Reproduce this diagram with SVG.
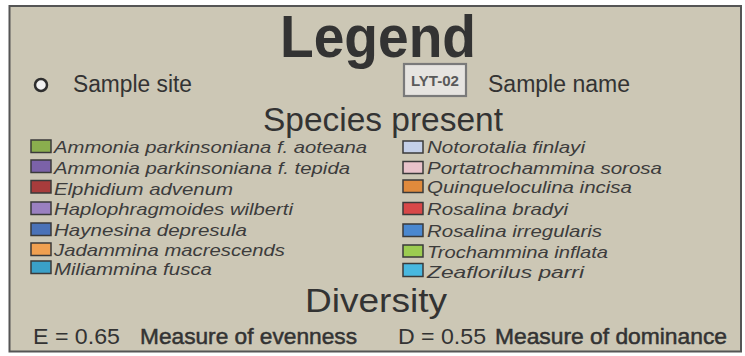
<svg xmlns="http://www.w3.org/2000/svg" width="745" height="356" viewBox="0 0 745 356">
<style>
.t{font-family:"Liberation Sans",Arial,sans-serif;fill:#333}
.sp{font-family:"Liberation Sans",Arial,sans-serif;font-style:italic;font-size:17px;fill:#3c3c3c}
.sw{stroke:#3a3a3a;stroke-width:1.5}
.med{stroke:#333;stroke-width:0.5}
</style>
<rect x="0" y="0" width="745" height="356" fill="#ffffff"/>
<rect id="frame" x="9.5" y="6" width="731.5" height="345.5" fill="#ccc7b5" stroke="#555" stroke-width="2"/>
<g id="title"><text class="t" x="378" y="57" font-size="60" font-weight="bold" text-anchor="middle" fill="#2a2a2a" textLength="196" lengthAdjust="spacingAndGlyphs">Legend</text></g>
<g id="sample-site">
<circle cx="41" cy="85" r="6" fill="#f2f2f2" stroke="#2e2e2e" stroke-width="2.5"/>
<text class="t" x="73" y="92" font-size="23" textLength="119" lengthAdjust="spacingAndGlyphs">Sample site</text>
</g>
<g id="sample-name">
<rect x="404" y="64" width="62" height="32" fill="#e6e4e0" stroke="#7a7a7a" stroke-width="2.2"/>
<text x="435" y="86" font-family="'Liberation Sans',Arial,sans-serif" font-size="14" font-weight="bold" fill="#5a5a5a" text-anchor="middle" textLength="48" lengthAdjust="spacingAndGlyphs">LYT-02</text>
<text class="t" x="488" y="92" font-size="23" textLength="142" lengthAdjust="spacingAndGlyphs">Sample name</text>
</g>
<g id="species-heading"><text class="t" x="383" y="131" font-size="34" text-anchor="middle" textLength="240" lengthAdjust="spacingAndGlyphs">Species present</text></g>
<g id="species-left">
<rect class="sw" x="31" y="140" width="20" height="12.5" fill="#8aae4e"/>
<text class="sp" x="54" y="152.5" textLength="313" lengthAdjust="spacingAndGlyphs">Ammonia parkinsoniana f. aoteana</text>
<rect class="sw" x="31" y="160" width="20" height="12.5" fill="#7b62a8"/>
<text class="sp" x="54" y="173.5" textLength="296" lengthAdjust="spacingAndGlyphs">Ammonia parkinsoniana f. tepida</text>
<rect class="sw" x="31" y="180.5" width="20" height="12.5" fill="#a83c3c"/>
<text class="sp" x="54" y="194.5" textLength="179" lengthAdjust="spacingAndGlyphs">Elphidium advenum</text>
<rect class="sw" x="31" y="202" width="20" height="12.5" fill="#9a80c0"/>
<text class="sp" x="54" y="215" textLength="239" lengthAdjust="spacingAndGlyphs">Haplophragmoides wilberti</text>
<rect class="sw" x="31" y="223" width="20" height="12.5" fill="#4a72b8"/>
<text class="sp" x="54" y="235.5" textLength="193" lengthAdjust="spacingAndGlyphs">Haynesina depresula</text>
<rect class="sw" x="31" y="243" width="20" height="12.5" fill="#f0a050"/>
<text class="sp" x="54" y="255.5" textLength="231" lengthAdjust="spacingAndGlyphs">Jadammina macrescends</text>
<rect class="sw" x="31" y="261" width="20" height="12.5" fill="#3aa0c8"/>
<text class="sp" x="54" y="275" textLength="158" lengthAdjust="spacingAndGlyphs">Miliammina fusca</text>
</g>
<g id="species-right">
<rect class="sw" x="403" y="141" width="20" height="12" fill="#c4cfe8"/>
<text class="sp" x="427" y="153" textLength="158" lengthAdjust="spacingAndGlyphs">Notorotalia finlayi</text>
<rect class="sw" x="403" y="161.5" width="20" height="12" fill="#e8c2ca"/>
<text class="sp" x="427" y="174" textLength="235" lengthAdjust="spacingAndGlyphs">Portatrochammina sorosa</text>
<rect class="sw" x="403" y="180" width="20" height="12.5" fill="#e08a3c"/>
<text class="sp" x="427" y="193" textLength="205" lengthAdjust="spacingAndGlyphs">Quinqueloculina incisa</text>
<rect class="sw" x="403" y="202.5" width="20" height="12" fill="#d84848"/>
<text class="sp" x="427" y="215" textLength="141" lengthAdjust="spacingAndGlyphs">Rosalina bradyi</text>
<rect class="sw" x="403" y="224" width="20" height="12.5" fill="#4a88d0"/>
<text class="sp" x="427" y="237" textLength="175" lengthAdjust="spacingAndGlyphs">Rosalina irregularis</text>
<rect class="sw" x="403" y="245" width="20" height="12" fill="#9ccc50"/>
<text class="sp" x="427" y="258" textLength="181" lengthAdjust="spacingAndGlyphs">Trochammina inflata</text>
<rect class="sw" x="403" y="263.5" width="20" height="13" fill="#48b8e0"/>
<text class="sp" x="427" y="277.5" textLength="157" lengthAdjust="spacingAndGlyphs">Zeaflorilus parri</text>
</g>
<g id="diversity">
<text class="t" x="376" y="312" font-size="34" text-anchor="middle" textLength="142" lengthAdjust="spacingAndGlyphs">Diversity</text>
<text class="t" x="33" y="344" font-size="22" textLength="87" lengthAdjust="spacingAndGlyphs">E = 0.65</text>
<text class="t med" x="140" y="344" font-size="22" textLength="217" lengthAdjust="spacingAndGlyphs">Measure of evenness</text>
<text class="t" x="398" y="344" font-size="22" textLength="88" lengthAdjust="spacingAndGlyphs">D = 0.55</text>
<text class="t med" x="495" y="344" font-size="22" textLength="232" lengthAdjust="spacingAndGlyphs">Measure of dominance</text>
</g>
</svg>
